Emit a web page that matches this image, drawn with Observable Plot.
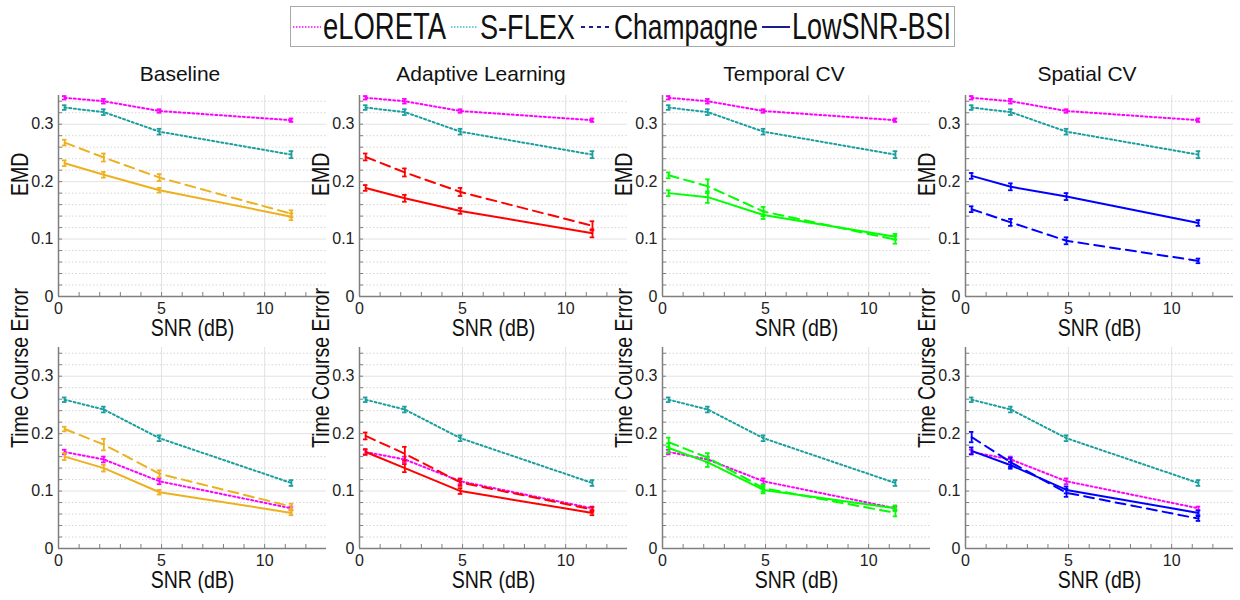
<!DOCTYPE html>
<html><head><meta charset="utf-8">
<script src="https://cdn.jsdelivr.net/npm/d3@7"></script>
<script src="https://cdn.jsdelivr.net/npm/@observablehq/plot@0.6"></script>
<style>
html,body{margin:0;padding:0;background:#fff;}
#root{position:relative;width:1240px;height:600px;overflow:hidden;font-family:"Liberation Sans",Arial,sans-serif;}
.title{position:absolute;top:63px;font-family:"Liberation Sans",Arial,sans-serif;font-size:21px;color:#111;transform:translateX(-50%);white-space:nowrap;line-height:1;}
#legend{position:absolute;left:0;top:0;}
.pbox{position:absolute;}
</style>
</head><body>
<div id="root">
  <svg id="legend" width="1240" height="52"></svg>
</div>
<script>
// ---------------- data ----------------
const snr = [0.3, 2.2, 4.9, 11.3];
const panelTitles = ["Baseline", "Adaptive Learning", "Temporal CV", "Spatial CV"];
const panelColors = ["#EDB120", "#FF0000", "#00FF00", "#0000FF"];
const methods = ["eLORETA", "S-FLEX", "Champagne", "LowSNR-BSI"];
const metrics = ["EMD", "Time Course Error"];
const xLabel = "SNR (dB)";
const xTicks = [0, 5, 10];
const yTicks = [0, 0.1, 0.2, 0.3];
const minorXTicks = [1, 2, 3, 4, 6, 7, 8, 9, 11, 12];
const minorYTicks = [0.02, 0.04, 0.06, 0.08, 0.12, 0.14, 0.16, 0.18, 0.22, 0.24, 0.26, 0.28, 0.32, 0.34];

// baselines (same in all panels)
const eloretaEMD = [0.346, 0.340, 0.323, 0.307];
const eloretaEMDerr = [0.003, 0.004, 0.003, 0.003];
const sflexEMD = [0.329, 0.321, 0.287, 0.247];
const sflexEMDerr = [0.004, 0.005, 0.005, 0.006];
const eloretaTCE = [0.168, 0.155, 0.117, 0.070];
const eloretaTCEerr = [0.004, 0.005, 0.005, 0.003];
const sflexTCE = [0.259, 0.242, 0.192, 0.114];
const sflexTCEerr = [0.004, 0.005, 0.005, 0.005];

// Champagne, per panel
const champEMD = [
  [0.268, 0.242, 0.207, 0.144],
  [0.243, 0.216, 0.182, 0.123],
  [0.211, 0.192, 0.148, 0.099],
  [0.152, 0.129, 0.097, 0.062]
];
const champEMDerr = [
  [0.005, 0.007, 0.006, 0.006],
  [0.006, 0.007, 0.007, 0.008],
  [0.005, 0.012, 0.008, 0.007],
  [0.005, 0.006, 0.006, 0.004]
];
const champTCE = [
  [0.208, 0.181, 0.130, 0.073],
  [0.196, 0.165, 0.115, 0.068],
  [0.185, 0.158, 0.105, 0.062],
  [0.194, 0.150, 0.097, 0.052]
];
const champTCEerr = [
  [0.004, 0.010, 0.006, 0.005],
  [0.006, 0.012, 0.006, 0.004],
  [0.008, 0.008, 0.006, 0.006],
  [0.009, 0.008, 0.007, 0.004]
];
// LowSNR-BSI, per panel
const bsiEMD = [
  [0.232, 0.212, 0.185, 0.139],
  [0.189, 0.171, 0.149, 0.110],
  [0.180, 0.173, 0.142, 0.104],
  [0.210, 0.191, 0.174, 0.128]
];
const bsiEMDerr = [
  [0.005, 0.005, 0.004, 0.006],
  [0.005, 0.006, 0.005, 0.007],
  [0.005, 0.010, 0.007, 0.005],
  [0.005, 0.006, 0.006, 0.005]
];
const bsiTCE = [
  [0.160, 0.140, 0.098, 0.062],
  [0.168, 0.140, 0.100, 0.062],
  [0.175, 0.150, 0.102, 0.070],
  [0.170, 0.145, 0.102, 0.062]
];
const bsiTCEerr = [
  [0.006, 0.006, 0.004, 0.004],
  [0.005, 0.007, 0.005, 0.004],
  [0.008, 0.008, 0.006, 0.005],
  [0.006, 0.006, 0.006, 0.004]
];

// ---------------- styles ----------------
const magenta = "#FF00FF";
const teal = "#1A9E9E";
const dotted = "2,2.6";
const dashed = "10,6";
const axisGray = "#7f7f7f";
const font = "'Liberation Sans',Arial,sans-serif";

// ---------------- layout ----------------
const colLeft = [58, 359, 662, 965];
const rowTop = [95, 347];
const plotW = 268, plotH = 201;
const ML = 50, MR = 12, MT = 10, MB = 55;

const root = document.getElementById("root");

// legend (boxed, one row); text condensed horizontally to match the reference
const legendSpec = [
  {name: methods[0], color: magenta, dash: "1.5,1.5", w: 1.5, sw: [293, 321], tx: [323, 123]},
  {name: methods[1], color: "#3fbfbf", dash: "1.5,1.5", w: 1.5, sw: [451, 477], tx: [480, 95]},
  {name: methods[2], color: "#1c1c8c", dash: "4,4", w: 2, sw: [581, 612], tx: [614, 144]},
  {name: methods[3], color: "#1c1c8c", dash: null, w: 2, sw: [762, 790], tx: [792, 159]}
];
const lg = d3.select("#legend");
lg.append("rect").attr("x", 290.5).attr("y", 6.5).attr("width", 664).attr("height", 40)
  .attr("fill", "#fff").attr("stroke", "#a8a8a8").attr("stroke-width", 1);
for (const s of legendSpec) {
  lg.append("line").attr("x1", s.sw[0]).attr("x2", s.sw[1]).attr("y1", 27).attr("y2", 27)
    .attr("stroke", s.color).attr("stroke-width", s.w).attr("stroke-dasharray", s.dash);
  const t = lg.append("text").attr("x", 0).attr("y", 0)
    .style("font-family", font).style("font-size", "36px").attr("fill", "#111")
    .text(s.name);
  const natural = t.node().getComputedTextLength();
  t.attr("transform", `translate(${s.tx[0]},39) scale(${s.tx[1] / natural},1)`);
}

function seriesFor(p, r) {
  const c = panelColors[p];
  if (r === 0) return [
    {name: methods[0], y: eloretaEMD, e: eloretaEMDerr, color: magenta, dash: dotted},
    {name: methods[1], y: sflexEMD, e: sflexEMDerr, color: teal, dash: dotted},
    {name: methods[2], y: champEMD[p], e: champEMDerr[p], color: c, dash: dashed},
    {name: methods[3], y: bsiEMD[p], e: bsiEMDerr[p], color: c, dash: null}
  ];
  return [
    {name: methods[0], y: eloretaTCE, e: eloretaTCEerr, color: magenta, dash: dotted},
    {name: methods[1], y: sflexTCE, e: sflexTCEerr, color: teal, dash: dotted},
    {name: methods[2], y: champTCE[p], e: champTCEerr[p], color: c, dash: dashed},
    {name: methods[3], y: bsiTCE[p], e: bsiTCEerr[p], color: c, dash: null}
  ];
}

for (let r = 0; r < 2; r++) {
  for (let p = 0; p < 4; p++) {
    const series = seriesFor(p, r);
    const marks = [
      Plot.ruleY(minorYTicks, {stroke: "#d6d6d6", strokeDasharray: "1.5,2", strokeWidth: 1}),
      Plot.ruleY(yTicks.filter(d => d > 0), {stroke: "#e2e2e2", strokeWidth: 1}),
      Plot.ruleX(xTicks.filter(d => d > 0), {stroke: "#e2e2e2", strokeWidth: 1}),
      Plot.tickX(minorXTicks.concat(xTicks), {x: d => d, insetTop: plotH - 4, stroke: axisGray, strokeWidth: 1}),
      Plot.tickY(minorYTicks.concat(yTicks), {y: d => d, insetRight: plotW - 4, stroke: axisGray, strokeWidth: 1})
    ];
    for (const s of series) {
      const rows = snr.map((x, i) => ({x, y: s.y[i], e: s.e[i]}));
      marks.push(
        Plot.line(rows, {x: "x", y: "y", stroke: s.color, strokeWidth: 2, strokeDasharray: s.dash || undefined, curve: "linear"}),
        Plot.ruleX(rows, {x: "x", y1: d => d.y - d.e, y2: d => d.y + d.e, stroke: s.color, strokeWidth: 1.8}),
        Plot.ruleY(rows, {y: d => d.y + d.e, x1: d => d.x - 0.11, x2: d => d.x + 0.11, stroke: s.color, strokeWidth: 1.8}),
        Plot.ruleY(rows, {y: d => d.y - d.e, x1: d => d.x - 0.11, x2: d => d.x + 0.11, stroke: s.color, strokeWidth: 1.8})
      );
    }
    marks.push(
      Plot.ruleX([0], {stroke: axisGray, strokeWidth: 1.5}),
      Plot.ruleY([0], {stroke: axisGray, strokeWidth: 1.5}),
      Plot.axisX({ticks: xTicks, tickSize: 0, tickPadding: 6, fontSize: 16, label: null, tickFormat: d3.format("~g")}),
      Plot.axisY({ticks: yTicks, tickSize: 0, tickPadding: 5, fontSize: 16, label: null, tickFormat: d3.format("~g")}),
      Plot.text([xLabel], {frameAnchor: "bottom", dy: 39, fontSize: 23, fontFamily: font, fill: "#111", className: "axlab"}),
      Plot.text([metrics[r]], {frameAnchor: "left", rotate: -90, dx: -38, fontSize: 23, fontFamily: font, fill: "#111", className: "axlab"})
    );
    const chart = Plot.plot({
      width: ML + plotW + MR,
      height: MT + plotH + MB,
      marginLeft: ML, marginRight: MR, marginTop: MT, marginBottom: MB,
      style: {background: "transparent", overflow: "visible", maxWidth: "none", fontFamily: font, color: "#222"},
      x: {domain: [0, 13]},
      y: {domain: [0, 0.35]},
      marks
    });
    // condense the axis titles horizontally (the reference font is narrow)
    chart.querySelectorAll("text").forEach(t => {
      const txt = t.textContent;
      if (txt !== xLabel && txt !== metrics[r]) return;
      const tr = t.getAttribute("transform");
      if (tr) {
        t.setAttribute("transform", tr + " scale(0.85,1)");
      } else {
        const x = +t.getAttribute("x") || 0, y = +t.getAttribute("y") || 0;
        t.setAttribute("x", 0); t.setAttribute("y", 0);
        t.setAttribute("transform", `translate(${x},${y}) scale(0.85,1)`);
      }
    });
    const box = document.createElement("div");
    box.className = "pbox";
    box.style.left = (colLeft[p] - ML) + "px";
    box.style.top = (rowTop[r] - MT) + "px";
    box.style.width = (ML + plotW + MR) + "px";
    box.appendChild(chart);
    root.appendChild(box);
  }
}
// titles
for (let p = 0; p < 4; p++) {
  const t = document.createElement("div");
  t.className = "title";
  t.textContent = panelTitles[p];
  t.style.left = (colLeft[p] + plotW / 2 - 12) + "px";
  root.appendChild(t);
}
</script>
</body></html>
